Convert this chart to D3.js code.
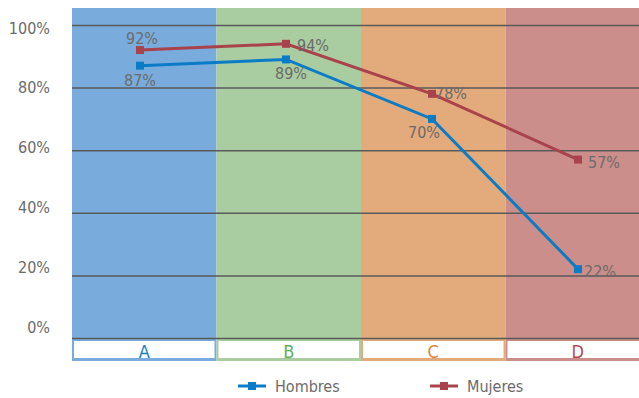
<!DOCTYPE html>
<html>
<head>
<meta charset="utf-8">
<script src="https://cdn.jsdelivr.net/npm/d3@7"></script>
<style>
  html, body { margin: 0; padding: 0; background: #fff; }
  svg { display: block; }
  text { font-family: "DejaVu Sans Condensed", "Roboto", sans-serif; }
</style>
</head>
<body>
<svg id="chart" width="639" height="398"></svg>
<script>
// Categories and their band colours
const categories = ["A", "B", "C", "D"];
const bandColors = ["#79acdc", "#a9cda1", "#e3aa7b", "#cc8e8a"];
const letterColors = ["#1a7dc8", "#63b05a", "#d9853f", "#b34a52"];

// Series values (percent)
const hombres = [87, 89, 70, 22];
const mujeres = [92, 94, 78, 57];
const seriesNames = ["Hombres", "Mujeres"];
const seriesColors = ["#0a7cc7", "#a9434b"];

// Y axis ticks
const yTicks = [0, 20, 40, 60, 80, 100];

const svg = d3.select("#chart");

const plotLeft = 72, bandW = 144.5, plotTop = 8, zeroY = 338, fullY = 25, boxBottom = 361;

const xBand = d3.scaleBand().domain(categories).range([plotLeft, plotLeft + bandW * 4]).padding(0);
const xPoint = d3.scalePoint().domain(categories).range([140, 578]);
const y = d3.scaleLinear().domain([0, 100]).range([zeroY, fullY]);
// tick labels sit on a slightly tighter spacing than the grid
const yLabel = d3.scaleLinear().domain([0, 100]).range([327, 28]);

// Coloured background bands
svg.append("g").selectAll("rect")
  .data(categories)
  .join("rect")
  .attr("x", d => xBand(d))
  .attr("y", plotTop)
  .attr("width", xBand.bandwidth())
  .attr("height", boxBottom - plotTop)
  .attr("fill", (d, i) => bandColors[i]);

// Category label boxes
const boxes = svg.append("g");
boxes.selectAll("rect")
  .data(categories)
  .join("rect")
  .attr("x", d => xBand(d) + 2)
  .attr("y", zeroY + 3)
  .attr("width", xBand.bandwidth() - 4)
  .attr("height", boxBottom - zeroY - 6)
  .attr("fill", "#fff");
boxes.selectAll("text")
  .data(categories)
  .join("text")
  .attr("x", d => xBand(d) + xBand.bandwidth() / 2)
  .attr("y", 358)
  .attr("text-anchor", "middle")
  .attr("font-size", 18)
  .attr("fill", (d, i) => letterColors[i])
  .text(d => d);

// Gridlines
svg.append("g")
  .attr("transform", `translate(${plotLeft},0)`)
  .call(d3.axisLeft(y).tickValues(yTicks).tickSize(-(639 - plotLeft)).tickFormat(""))
  .call(g => g.select(".domain").remove())
  .call(g => g.selectAll(".tick line").attr("stroke", "#5a5a5a").attr("stroke-width", 1.5));

// Y tick labels
svg.append("g")
  .attr("transform", `translate(50,0)`)
  .call(d3.axisLeft(yLabel).tickValues(yTicks).tickSize(0).tickPadding(0).tickFormat(d => d + "%"))
  .call(g => g.select(".domain").remove())
  .call(g => g.selectAll(".tick text")
    .attr("font-size", 16)
    .attr("fill", "#6b6b6b")
    .style("font-family", "'DejaVu Sans Condensed', sans-serif"));

// Lines and markers
const series = [hombres, mujeres];
const line = d3.line().x((d, i) => xPoint(categories[i])).y(d => y(d));

series.forEach((vals, s) => {
  svg.append("path")
    .datum(vals)
    .attr("d", line)
    .attr("fill", "none")
    .attr("stroke", seriesColors[s])
    .attr("stroke-width", 3);
  svg.append("g").selectAll("rect")
    .data(vals)
    .join("rect")
    .attr("x", (d, i) => xPoint(categories[i]) - 4)
    .attr("y", d => y(d) - 4)
    .attr("width", 8)
    .attr("height", 8)
    .attr("fill", seriesColors[s]);
});

// Value labels: placement per point (dx, dy, anchor)
const hombresLabelPos = [[0, 20, "middle"], [5, 20, "middle"], [-8, 19, "middle"], [6, 8, "start"]];
const mujeresLabelPos = [[2, -6, "middle"], [11, 7, "start"], [3, 5, "start"], [10, 8, "start"]];
[[hombres, hombresLabelPos], [mujeres, mujeresLabelPos]].forEach(([vals, pos]) => {
  svg.append("g").selectAll("text")
    .data(vals)
    .join("text")
    .attr("x", (d, i) => xPoint(categories[i]) + pos[i][0])
    .attr("y", d => y(d))
    .attr("dy", (d, i) => pos[i][1])
    .attr("text-anchor", (d, i) => pos[i][2])
    .attr("font-size", 16)
    .attr("fill", "#6b6b6b")
    .text(d => d + "%");
});

// Legend
const legendX = [238, 430];
const legend = svg.append("g");
seriesNames.forEach((name, s) => {
  const g = legend.append("g").attr("transform", `translate(${legendX[s]},386)`);
  g.append("line").attr("x1", 0).attr("x2", 28).attr("y1", 0).attr("y2", 0)
    .attr("stroke", seriesColors[s]).attr("stroke-width", 3);
  g.append("rect").attr("x", 10).attr("y", -4).attr("width", 8).attr("height", 8)
    .attr("fill", seriesColors[s]);
  g.append("text").attr("x", 37).attr("y", 6).attr("font-size", 16)
    .attr("fill", "#6b6b6b").text(name);
});
</script>
</body>
</html>
